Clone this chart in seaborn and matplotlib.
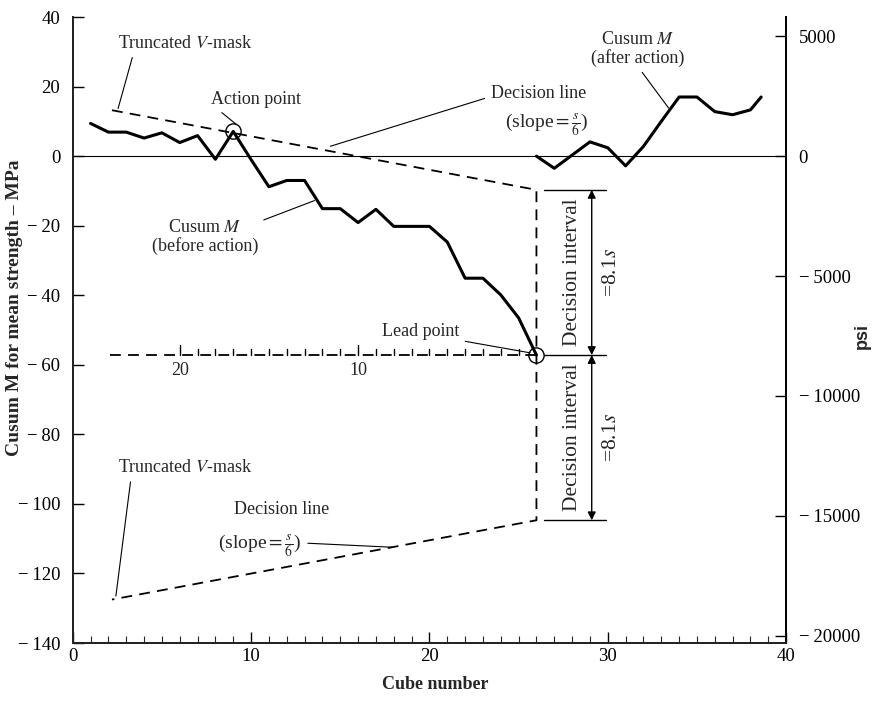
import matplotlib
matplotlib.use('Agg')
import matplotlib.pyplot as plt
import seaborn as sns
from matplotlib.ticker import MultipleLocator, FuncFormatter

# Cusum data
cube_before = list(range(1, 27))
cusum_before = [9.4, 6.9, 6.9, 5.2, 6.7, 3.9, 5.9, -0.9, 7.1, -1.0, -8.8, -7.0, -7.0,
                -15.1, -15.1, -19.1, -15.3, -20.2, -20.2, -20.2, -24.7, -35.1, -35.1,
                -39.9, -46.5, -57.2]
cube_after = [26, 27, 28, 29, 30, 31, 32, 33, 34, 35, 36, 37, 38, 38.6]
cusum_after = [0, -3.5, 0.3, 4.1, 2.4, -2.8, 2.8, 10.0, 17.0, 17.0, 12.8, 11.9, 13.3, 17.0]

# Truncated V-mask (upper line, vertical, lower line)
mask_x = [2.2, 26, 26, 2.2]
mask_y = [13.2, -9.7, -104.7, -127.5]
base_x = [2.1, 26]
scale_steps = list(range(1, 21))
scale_labels = [10, 20]

action_idx = 8
psi_per_mpa = 145.038


def minus_fmt(v, pos):
    v = int(round(v))
    return '\u2212\u2009%d' % abs(v) if v < 0 else '%d' % v


sns.set_theme(style='ticks')
plt.rcParams['font.family'] = ['Liberation Serif', 'DejaVu Serif']
plt.rcParams['mathtext.fontset'] = 'stix'

fig = plt.figure(figsize=(8.73, 7.06), dpi=100)
ax = fig.add_axes([0.0833, 0.0892, 0.8172, 0.8867])

sns.lineplot(x=cube_before, y=cusum_before, ax=ax, color='black', lw=2.2)
sns.lineplot(x=cube_after, y=cusum_after, ax=ax, color='black', lw=2.2)
ax.axhline(0, color='black', lw=0.8)

# V-mask
ax.plot(mask_x, mask_y, color='black', lw=1.3, ls=(0, (6, 4)))
lead_x, lead_y = cube_before[-1], cusum_before[-1]
ax.plot(base_x, [lead_y, lead_y], color='black', lw=1.3, ls=(0, (6, 4)))
# reversed cube scale along the lead line
for k in scale_steps:
    h = 2.8 if k in scale_labels else 1.6
    ax.plot([lead_x - k, lead_x - k], [lead_y, lead_y + h], color='black', lw=1.0)
for k in scale_labels:
    ax.text(lead_x - k, lead_y - 2.0, str(k), ha='center', va='top', fontsize=13)

# action / lead points
ax.plot(cube_before[action_idx], cusum_before[action_idx], 'o', mfc='none', mec='black', ms=11, mew=1)
ax.plot(lead_x, lead_y, 'o', mfc='none', mec='black', ms=11, mew=1)

# decision interval bracket
upper, lower = mask_y[1], mask_y[2]
for yy in [upper, lead_y, lower]:
    ax.plot([26.4, 29.9], [yy, yy], color='black', lw=1.0)
ax.annotate('', xy=(29.1, upper), xytext=(29.1, lead_y),
            arrowprops=dict(arrowstyle='<|-|>', color='black', lw=1.0, mutation_scale=12, shrinkA=0, shrinkB=0))
ax.annotate('', xy=(29.1, lead_y), xytext=(29.1, lower),
            arrowprops=dict(arrowstyle='<|-|>', color='black', lw=1.0, mutation_scale=12, shrinkA=0, shrinkB=0))
for yc in [(upper + lead_y) / 2, (lead_y + lower) / 2]:
    ax.text(28.0, yc, 'Decision interval', rotation=90, ha='center', va='center', fontsize=15.5)
    ax.text(30.2, yc, '=8.1$s$', rotation=90, ha='center', va='center', fontsize=15.5)

fs = 13
pointer = dict(arrowstyle='-', color='black', lw=0.8)
ax.annotate('Truncated $V$-mask', xy=(2.5, 12.9), xytext=(6.3, 32.5), ha='center', va='center',
            fontsize=fs, arrowprops=dict(pointer, relpos=(0.12, 0)))
ax.annotate('Action point', xy=(9.3, 8.6), xytext=(10.3, 16.4), ha='center', va='center',
            fontsize=fs, arrowprops=dict(pointer, relpos=(0.0, 0.2)))
ax.annotate('Decision line', xy=(14.3, 2.6), xytext=(26.1, 18.1), ha='center', va='center',
            fontsize=fs, arrowprops=dict(pointer, relpos=(0.0, 0.3)))
ax.text(26.6, 9.0, '(slope$=\\frac{s}{6}$)', ha='center', va='center', fontsize=fs + 1)
ax.annotate('Cusum $M$\n(before action)', xy=(13.7, -12.5), xytext=(7.4, -23.3), ha='center', va='center',
            fontsize=fs, linespacing=1.05, arrowprops=dict(pointer, relpos=(0.85, 0.75)))
ax.annotate('Cusum $M$\n(after action)', xy=(33.5, 13.2), xytext=(31.7, 30.8), ha='center', va='center',
            fontsize=fs, linespacing=1.05, arrowprops=dict(pointer, relpos=(0.5, 0.0)))
ax.annotate('Lead point', xy=(25.8, -56.7), xytext=(19.5, -50.5), ha='center', va='center',
            fontsize=fs, arrowprops=dict(pointer, relpos=(1.0, 0.0)))
ax.annotate('Truncated $V$-mask', xy=(2.4, -127.3), xytext=(6.3, -89.5), ha='center', va='center',
            fontsize=fs, arrowprops=dict(pointer, relpos=(0.1, 0.0)))
ax.text(11.7, -101.5, 'Decision line', ha='center', va='center', fontsize=fs)
ax.annotate('(slope$=\\frac{s}{6}$)', xy=(18.1, -112.5), xytext=(10.5, -112.0), ha='center', va='center',
            fontsize=fs + 1, arrowprops=dict(pointer, relpos=(1.0, 0.6)))

# axes
ax.set_xlim(0, 40)
ax.set_ylim(-140, 40)
ax.set_xticks(range(0, 41, 10))
ax.xaxis.set_minor_locator(MultipleLocator(1))
ax.set_yticks(range(-140, 41, 20))
ax.yaxis.set_major_formatter(FuncFormatter(minus_fmt))
ax.tick_params(axis='both', which='major', direction='in', length=8, width=1, labelsize=13.5, colors='black')
ax.tick_params(axis='y', pad=9)
ax.tick_params(axis='x', which='minor', direction='in', length=5, width=0.8)
ax.spines['top'].set_visible(False)
for s in ['left', 'bottom', 'right']:
    ax.spines[s].set_color('black')
    ax.spines[s].set_linewidth(1.3)
ax.set_xlabel('Cube number', fontsize=13, fontweight='bold')
ax.xaxis.set_label_coords(0.508, -0.052)
ax.set_ylabel('Cusum M for mean strength – MPa', fontsize=14, fontweight='bold')
ax.yaxis.set_label_coords(-0.07, 0.535)

ax2 = ax.twinx()
ax2.set_ylim(-140 * psi_per_mpa, 40 * psi_per_mpa)
ax2.set_yticks(range(-20000, 5001, 5000))
ax2.yaxis.set_major_formatter(FuncFormatter(minus_fmt))
ax2.tick_params(axis='y', direction='in', length=8, width=1, labelsize=13.5, colors='black', pad=9)
ax2.spines['top'].set_visible(False)
ax2.spines['right'].set_color('black')
ax2.spines['right'].set_linewidth(1.3)
ax2.set_ylabel('psi', fontsize=13, fontweight='bold', family='Liberation Sans', rotation=90)
ax2.yaxis.set_label_coords(1.095, 0.49)

fig.savefig('out.png', dpi=100)
